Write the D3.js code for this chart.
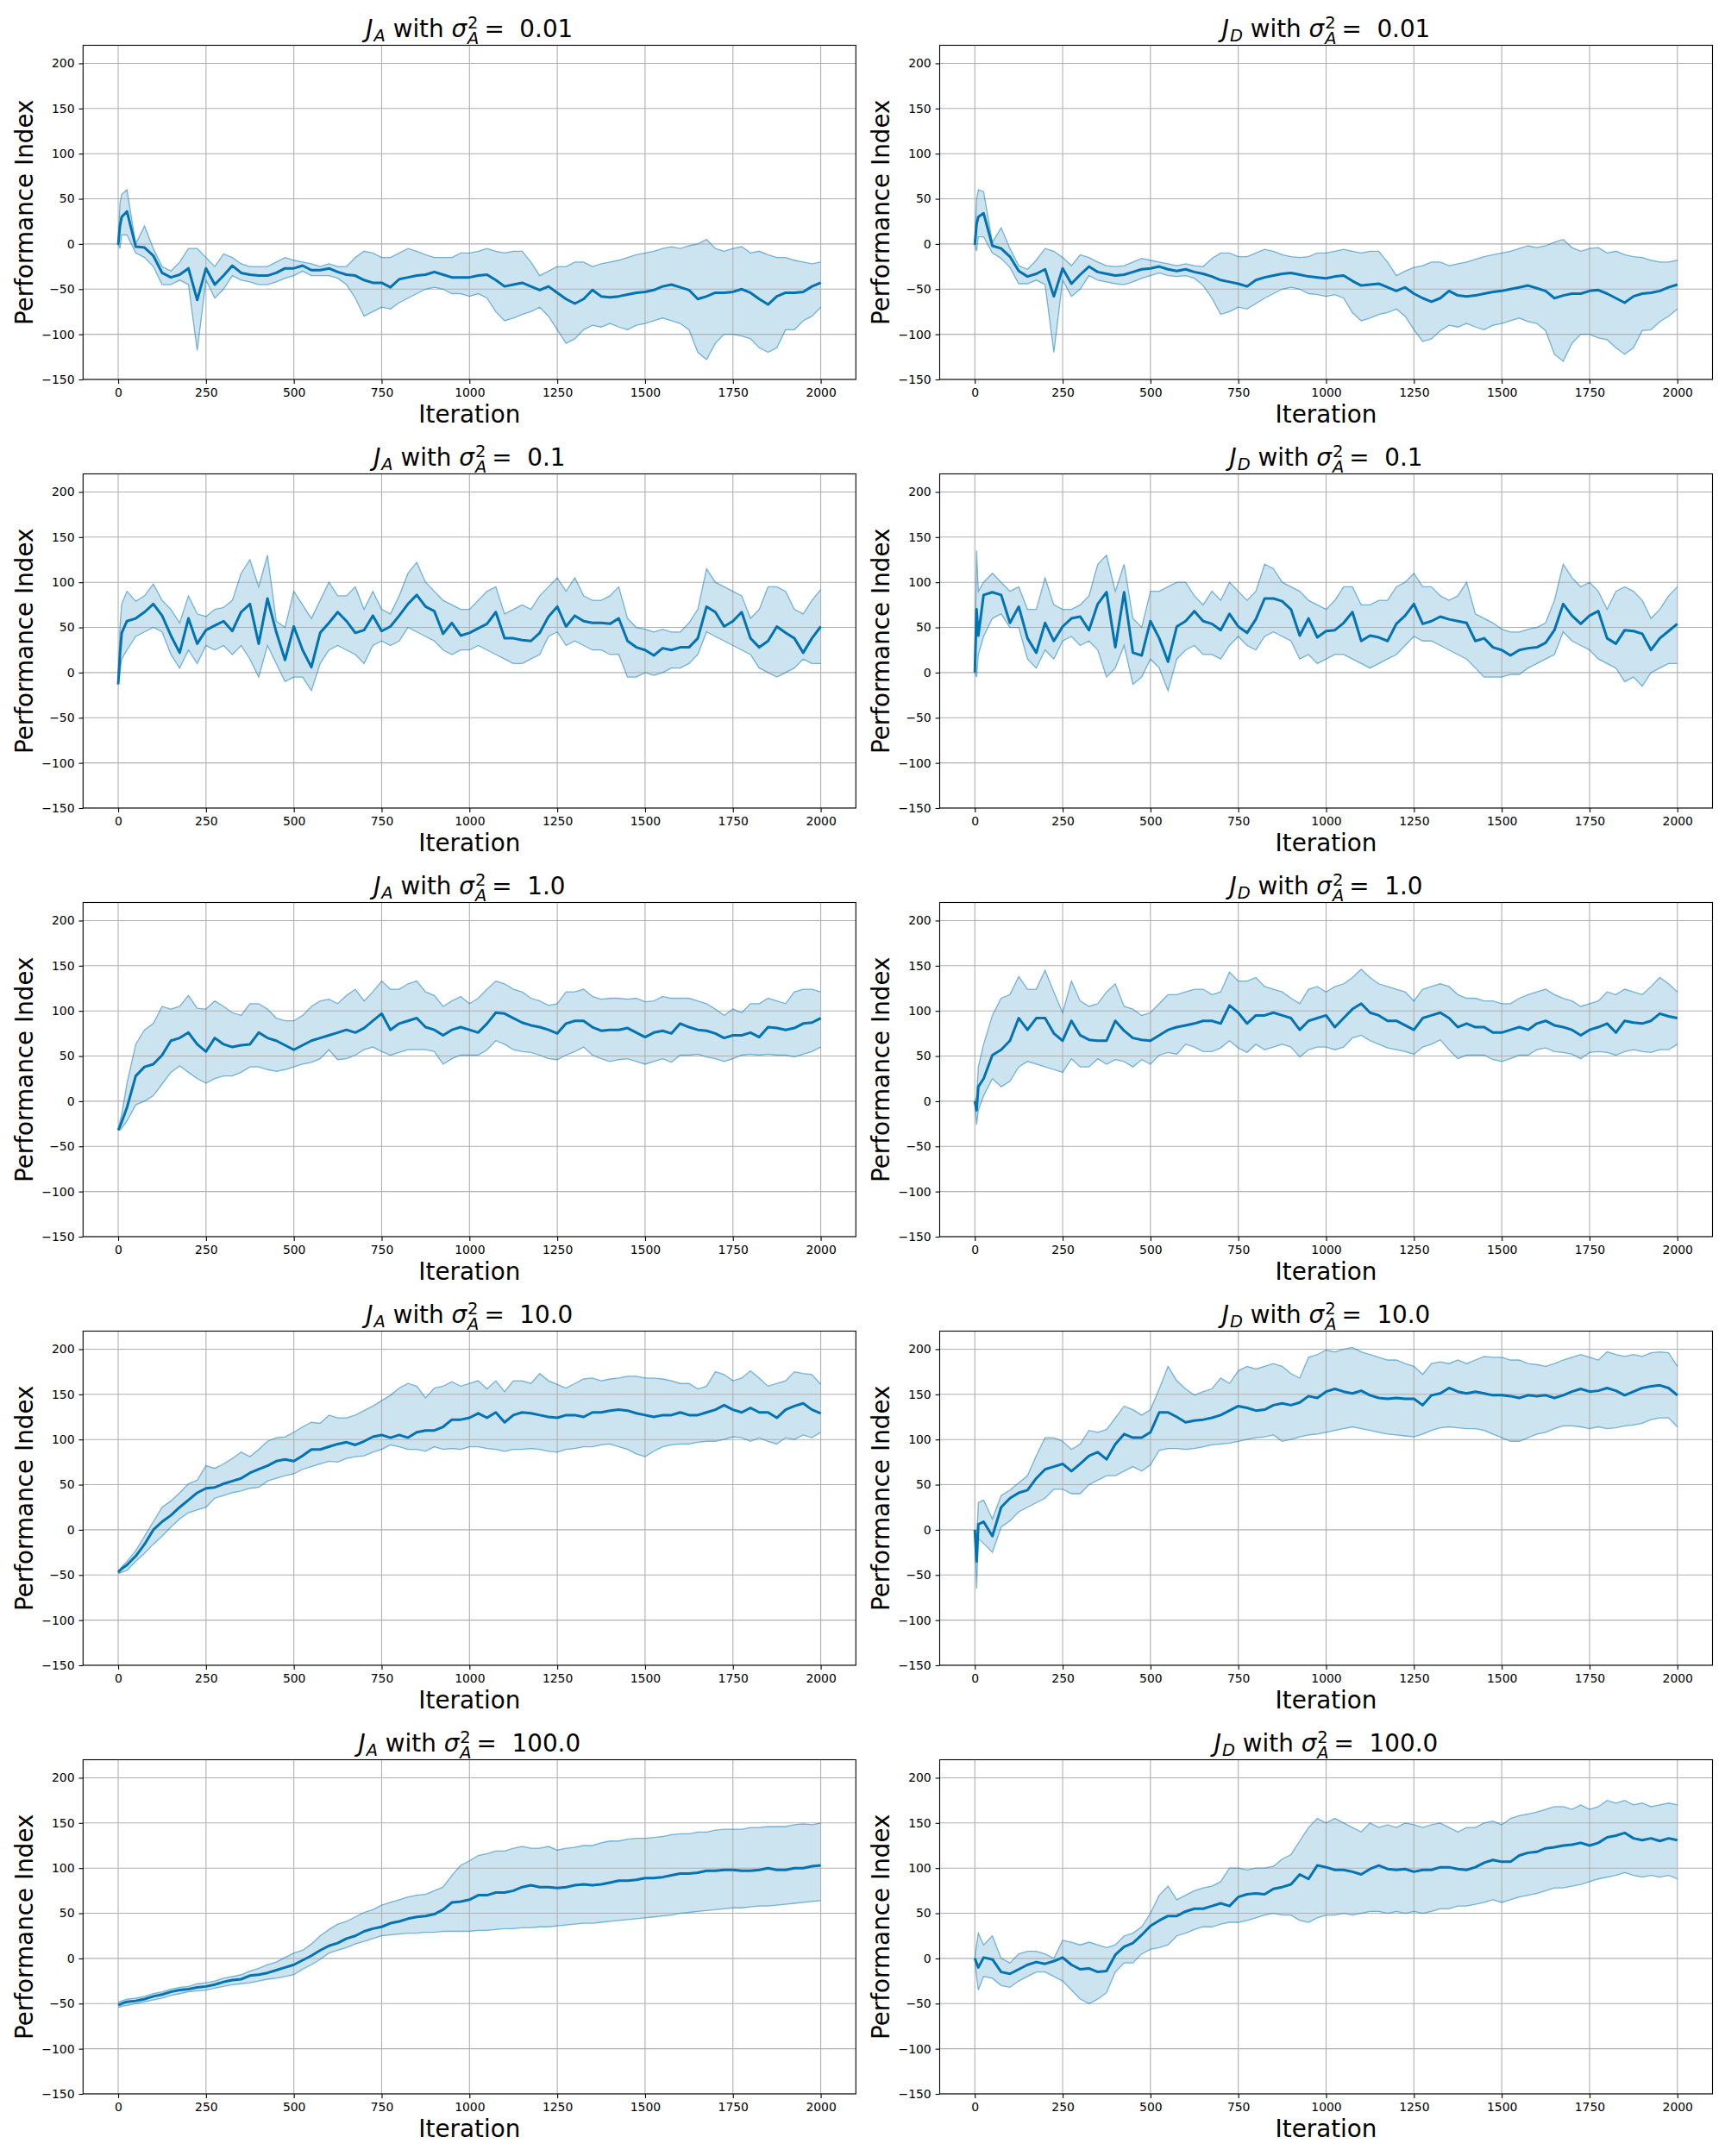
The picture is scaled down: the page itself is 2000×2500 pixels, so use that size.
<!DOCTYPE html>
<html>
<head>
<meta charset="utf-8">
<script src="https://cdn.jsdelivr.net/npm/d3@7"></script>
<style>
  body { margin: 0; background: #fff; }
  text { font-family: "DejaVu Sans", sans-serif; }
</style>
</head>
<body>
<svg id="fig"></svg>
<script>
const svgWidth = 2000;
const svgHeight = 2500;

// iteration grid the curves were read on
const ITER = [0, 5, 10, 25,
  50, 75, 100, 125, 150, 175, 200, 225, 250, 275,
  300, 325, 350, 375, 400, 425, 450, 475, 500, 525,
  550, 575, 600, 625, 650, 675, 700, 725, 750, 775,
  800, 825, 850, 875, 900, 925, 950, 975, 1000, 1025,
  1050, 1075, 1100, 1125, 1150, 1175, 1200, 1225, 1250, 1275,
  1300, 1325, 1350, 1375, 1400, 1425, 1450, 1475, 1500, 1525,
  1550, 1575, 1600, 1625, 1650, 1675, 1700, 1725, 1750, 1775,
  1800, 1825, 1850, 1875, 1900, 1925, 1950, 1975, 2000];

const xTicks = [0, 250, 500, 750, 1000, 1250, 1500, 1750, 2000];
const yTicks = [-150, -100, -50, 0, 50, 100, 150, 200];

// J_A, sigma^2 = 0.01
const meanA001 = [-1, 20, 30, 36,
  -3, -4, -13, -32, -37, -34, -27, -62, -27, -45,
  -35, -24, -32, -34, -35, -35, -32, -27, -27, -24,
  -29, -29, -27, -31, -34, -35, -40, -43, -43, -48,
  -39, -37, -35, -34, -31, -34, -37, -37, -37, -35,
  -34, -40, -47, -45, -43, -47, -51, -47, -54, -61,
  -66, -61, -51, -58, -59, -58, -56, -54, -53, -51,
  -47, -45, -48, -51, -61, -58, -54, -54, -53, -50,
  -54, -61, -67, -58, -54, -54, -53, -47, -43];
const upA001 = [0, 45, 55, 60,
  0, 20, -5, -25, -30, -20, -5, -5, -15, -25,
  -11, -15, -22, -25, -25, -25, -20, -15, -18, -20,
  -22, -25, -22, -25, -25, -15, -8, -10, -15, -15,
  -10, -5, -8, -12, -15, -15, -15, -10, -10, -8,
  -5, -8, -10, -8, -8, -20, -35, -30, -25, -25,
  -20, -20, -25, -22, -20, -18, -15, -12, -10, -8,
  -5, -3, -5, -2, 0, 5, -5, -8, -5, -3,
  -10, -8, -12, -15, -15, -18, -20, -22, -20];
const loA001 = [0, -5, 10, 10,
  -10, -15, -25, -45, -45, -40, -45, -118, -40, -60,
  -50, -35, -40, -42, -45, -45, -42, -38, -35, -30,
  -35, -35, -35, -38, -45, -60, -80, -75, -70, -72,
  -65, -60, -55, -50, -48, -50, -55, -55, -58, -55,
  -60, -75, -85, -82, -78, -75, -70, -80, -95, -110,
  -105, -95, -90, -92, -88, -92, -95, -90, -88, -85,
  -82, -85, -88, -95, -120, -128, -110, -100, -100, -102,
  -105, -115, -120, -115, -95, -95, -85, -80, -70];

// J_D, sigma^2 = 0.01
const meanD001 = [-1, 22, 30, 34,
  -2, -5, -14, -30, -36, -33, -28, -58, -27, -44,
  -34, -25, -31, -33, -35, -34, -31, -28, -27, -25,
  -28, -30, -28, -31, -33, -36, -40, -42, -44, -47,
  -40, -37, -35, -33, -32, -34, -36, -37, -38, -36,
  -35, -41, -46, -45, -44, -48, -52, -48, -55, -60,
  -64, -60, -52, -57, -58, -57, -55, -53, -52, -50,
  -48, -46, -49, -52, -60, -57, -55, -55, -52, -51,
  -55, -60, -65, -58, -55, -54, -52, -48, -45];
const upD001 = [0, 50, 60, 58,
  2, 18, -5, -24, -28, -18, -5, -8, -15, -24,
  -12, -15, -20, -24, -25, -24, -20, -16, -18, -20,
  -22, -24, -22, -24, -25, -16, -10, -10, -14, -14,
  -10, -6, -8, -12, -14, -15, -14, -10, -10, -8,
  -6, -8, -10, -8, -8, -20, -35, -30, -26, -24,
  -20, -20, -24, -22, -20, -17, -14, -12, -10, -8,
  -5, -2, -4, -2, 2, 5, -4, -8, -5, -4,
  -10, -8, -12, -14, -15, -18, -20, -20, -18];
const loD001 = [0, -8, 8, 8,
  -10, -16, -26, -44, -44, -40, -45, -120, -40, -58,
  -50, -35, -40, -42, -44, -45, -42, -38, -35, -32,
  -35, -36, -35, -38, -46, -60, -78, -75, -70, -72,
  -66, -60, -55, -50, -48, -50, -55, -56, -58, -56,
  -60, -76, -85, -82, -78, -76, -72, -80, -95, -108,
  -105, -96, -90, -92, -88, -92, -95, -90, -88, -85,
  -82, -86, -88, -96, -122, -130, -110, -100, -100, -104,
  -106, -115, -122, -115, -96, -95, -86, -80, -72];

// J_A, sigma^2 = 0.1
const meanA01 = [-13, 20, 44, 57,
  60, 67, 76, 63, 41, 22, 60, 32, 47, 52,
  57, 46, 67, 76, 32, 82, 45, 14, 51, 25,
  6, 44, 55, 67, 57, 44, 47, 63, 46, 51,
  63, 76, 86, 73, 68, 43, 55, 41, 44, 49,
  54, 67, 38, 38, 36, 35, 44, 62, 73, 51,
  63, 57, 55, 55, 54, 60, 35, 28, 25, 19,
  27, 25, 28, 28, 38, 73, 67, 51, 57, 67,
  38, 28, 35, 51, 44, 38, 22, 38, 51];
const upA01 = [-13, 50, 76, 90,
  79, 85, 98, 80, 70, 55, 85, 65, 62, 70,
  72, 80, 110, 125, 95, 130, 57, 50, 90, 75,
  60, 80, 100, 85, 85, 95, 70, 90, 70, 65,
  85, 110, 122, 100, 90, 80, 75, 70, 70, 80,
  90, 95, 65, 70, 75, 70, 85, 95, 105, 90,
  105, 85, 80, 80, 85, 95, 60, 50, 48, 45,
  48, 45, 45, 55, 70, 115, 100, 95, 90, 85,
  60, 70, 95, 95, 90, 70, 65, 80, 92];
const loA01 = [-13, 0, 15, 25,
  40, 45, 50, 45, 20, 5, 25, 10, 30, 25,
  30, 20, 30, 15, -5, 30, 10, -10, -5, -5,
  -20, 10, 25, 30, 25, 20, 10, 30, 35, 30,
  35, 50, 45, 40, 35, 25, 20, 25, 25, 30,
  25, 20, 15, 10, 10, 15, 20, 40, 45, 30,
  35, 30, 25, 25, 20, 20, -5, -5, 0, -3,
  0, 5, 5, 10, 20, 45, 40, 35, 30, 25,
  20, 5, 0, -5, 0, 5, 15, 10, 10];

// J_D, sigma^2 = 0.1
const meanD01 = [0, 70, 41, 86,
  89, 86, 55, 73, 38, 22, 55, 35, 51, 60,
  62, 47, 76, 89, 28, 89, 22, 19, 57, 38,
  12, 51, 57, 68, 57, 54, 47, 65, 51, 44,
  59, 82, 82, 79, 70, 41, 60, 39, 46, 47,
  55, 67, 35, 41, 39, 35, 54, 63, 76, 54,
  57, 62, 59, 57, 55, 35, 38, 28, 25, 19,
  25, 27, 28, 33, 47, 76, 63, 54, 63, 68,
  38, 32, 47, 46, 43, 25, 38, 46, 54];
const upD01 = [0, 135, 90, 100,
  110, 100, 90, 95, 70, 70, 105, 75, 70, 70,
  75, 85, 120, 130, 90, 120, 60, 50, 90, 90,
  95, 100, 100, 85, 75, 90, 80, 100, 90, 80,
  90, 120, 115, 100, 95, 90, 80, 75, 70, 80,
  95, 95, 75, 75, 80, 80, 95, 100, 110, 95,
  95, 85, 80, 85, 100, 65, 60, 55, 48, 45,
  45, 48, 50, 55, 80, 120, 105, 95, 100, 90,
  70, 90, 95, 90, 80, 60, 70, 85, 95];
const loD01 = [0, -5, 20, 40,
  60, 65, 50, 50, 15, 5, 25, 15, 35, 40,
  30, 35, 25, -5, 5, 30, -13, -5, 15, 5,
  -20, 15, 25, 30, 20, 20, 15, 30, 40, 30,
  25, 40, 45, 40, 35, 15, 20, 10, 15, 20,
  20, 15, 10, 5, 10, 15, 20, 30, 40, 35,
  35, 30, 25, 20, 15, 5, -5, -5, -5, -2,
  -2, 5, 10, 15, 20, 45, 35, 30, 25, 15,
  10, 5, -10, -5, -15, 0, 5, 10, 10];

// J_A, sigma^2 = 1.0
const meanA1 = [-32, -28, -23, -7,
  28, 38, 41, 51, 67, 70, 76, 63, 55, 70,
  63, 60, 62, 63, 76, 70, 67, 62, 57, 62,
  67, 70, 73, 76, 79, 76, 81, 89, 97, 79,
  86, 89, 92, 82, 79, 73, 79, 82, 79, 76,
  86, 98, 97, 92, 87, 84, 82, 79, 75, 86,
  89, 89, 82, 78, 79, 79, 81, 76, 71, 76,
  78, 75, 86, 82, 79, 78, 75, 70, 73, 73,
  76, 71, 82, 81, 79, 81, 86, 87, 92];
const upA1 = [-32, -22, -15, 20,
  63, 79, 86, 105, 102, 105, 117, 103, 102, 111,
  105, 98, 95, 108, 108, 102, 92, 89, 89, 95,
  105, 111, 113, 108, 117, 124, 111, 121, 133, 124,
  124, 130, 133, 121, 117, 105, 111, 116, 108, 114,
  124, 133, 130, 124, 121, 114, 111, 106, 108, 121,
  121, 124, 116, 113, 114, 114, 113, 114, 110, 111,
  116, 114, 114, 114, 111, 108, 102, 95, 102, 98,
  108, 108, 114, 111, 108, 121, 124, 124, 121];
const loA1 = [-32, -32, -30, -22,
  -4, 0, 6, 19, 32, 39, 32, 25, 20, 25,
  28, 28, 32, 38, 38, 35, 33, 35, 38, 41,
  43, 47, 57, 46, 47, 51, 57, 60, 55, 51,
  54, 57, 57, 57, 55, 41, 47, 51, 51, 51,
  57, 67, 63, 57, 55, 54, 51, 47, 46, 51,
  55, 60, 51, 47, 44, 46, 47, 44, 41, 44,
  47, 43, 51, 51, 52, 49, 47, 44, 47, 51,
  52, 51, 52, 51, 51, 49, 52, 55, 60];

// J_D, sigma^2 = 1.0
const meanD1 = [0, -10, 16, 25,
  51, 57, 67, 92, 79, 92, 92, 75, 67, 89,
  73, 68, 67, 67, 89, 78, 70, 68, 67, 73,
  79, 82, 84, 86, 89, 89, 86, 106, 98, 86,
  95, 95, 98, 95, 92, 79, 89, 92, 95, 82,
  92, 102, 108, 98, 95, 89, 89, 84, 79, 92,
  95, 98, 92, 82, 86, 82, 82, 76, 76, 79,
  82, 79, 86, 89, 84, 82, 79, 73, 79, 82,
  86, 76, 89, 87, 86, 89, 97, 94, 92];
const upD1 = [0, 5, 38, 63,
  95, 114, 118, 138, 124, 124, 145, 121, 98, 133,
  111, 105, 108, 121, 130, 105, 102, 95, 98, 108,
  118, 118, 121, 124, 124, 118, 121, 143, 133, 133,
  137, 127, 124, 121, 114, 108, 124, 127, 121, 127,
  130, 137, 146, 137, 130, 127, 124, 121, 111, 124,
  127, 130, 127, 118, 114, 114, 111, 111, 108, 108,
  114, 118, 121, 124, 118, 114, 111, 105, 108, 111,
  121, 118, 124, 121, 118, 127, 137, 130, 121];
const loD1 = [0, -26, -10, 6,
  25, 16, 22, 38, 44, 41, 38, 35, 32, 47,
  38, 38, 47, 41, 46, 44, 38, 46, 41, 51,
  54, 52, 63, 60, 55, 55, 59, 67, 59, 54,
  63, 57, 60, 63, 60, 49, 57, 60, 60, 57,
  60, 70, 73, 67, 63, 59, 57, 55, 52, 60,
  63, 68, 57, 47, 51, 51, 51, 46, 44, 47,
  51, 51, 57, 59, 55, 54, 52, 47, 54, 55,
  54, 51, 55, 57, 55, 54, 57, 57, 63];

// J_A, sigma^2 = 10.0
const meanA10 = [-47, -45, -43, -39,
  -29, -16, 0, 9, 16, 25, 33, 41, 46, 47,
  51, 54, 57, 63, 67, 71, 76, 78, 76, 82,
  89, 89, 92, 95, 97, 94, 98, 103, 105, 102,
  105, 102, 108, 110, 110, 114, 122, 122, 124, 129,
  124, 130, 119, 127, 130, 129, 127, 125, 124, 127,
  127, 125, 130, 130, 132, 133, 132, 129, 127, 125,
  127, 127, 130, 127, 127, 130, 133, 138, 133, 130,
  135, 130, 130, 124, 133, 137, 140, 133, 129];
const upA10 = [-45, -44, -41, -35,
  -23, -7, 9, 25, 32, 41, 51, 55, 71, 68,
  73, 79, 86, 81, 89, 98, 102, 103, 108, 114,
  119, 118, 127, 124, 124, 127, 132, 137, 143, 149,
  157, 162, 159, 146, 157, 159, 164, 159, 162, 165,
  156, 165, 153, 165, 165, 162, 173, 165, 161, 157,
  162, 167, 168, 165, 167, 168, 170, 170, 168, 168,
  167, 165, 162, 162, 156, 159, 175, 172, 165, 168,
  176, 168, 159, 162, 165, 175, 173, 172, 161];
const loA10 = [-48, -48, -47, -45,
  -35, -26, -16, -7, 3, 12, 19, 22, 25, 35,
  38, 41, 43, 46, 47, 54, 57, 60, 62, 67,
  70, 73, 76, 75, 79, 81, 82, 86, 89, 94,
  92, 89, 89, 87, 92, 89, 90, 89, 92, 92,
  90, 89, 87, 89, 89, 90, 89, 87, 86, 89,
  90, 92, 92, 94, 95, 92, 89, 84, 81, 87,
  92, 94, 95, 95, 97, 98, 98, 100, 103, 102,
  98, 102, 98, 95, 102, 100, 105, 102, 108];

// J_D, sigma^2 = 10.0
const meanD10 = [0, -35, 6, 9,
  -7, 25, 35, 41, 44, 57, 67, 70, 73, 65,
  73, 82, 86, 78, 95, 106, 102, 102, 108, 130,
  130, 125, 119, 121, 122, 124, 127, 132, 137, 135,
  132, 133, 138, 140, 138, 141, 148, 146, 153, 156,
  153, 151, 154, 149, 146, 145, 146, 145, 145, 138,
  149, 151, 157, 153, 151, 153, 151, 149, 149, 148,
  146, 149, 148, 149, 146, 149, 153, 156, 153, 154,
  157, 154, 149, 153, 157, 159, 160, 157, 149];
const upD10 = [0, -15, 30, 33,
  12, 38, 44, 52, 60, 82, 102, 102, 98, 89,
  95, 110, 108, 111, 124, 137, 133, 127, 133, 156,
  181, 165, 156, 149, 153, 156, 168, 162, 176, 181,
  178, 181, 184, 181, 173, 168, 191, 194, 199, 197,
  200, 202, 197, 194, 191, 188, 188, 184, 181, 172,
  184, 186, 184, 188, 184, 188, 192, 191, 191, 188,
  188, 184, 183, 181, 184, 188, 191, 194, 191, 188,
  197, 194, 192, 194, 192, 196, 197, 196, 181];
const loD10 = [0, -65, -10, -15,
  -25, 3, 10, 20, 25, 30, 35, 45, 45, 40,
  40, 50, 55, 60, 60, 65, 70, 65, 72, 88,
  90, 90, 89, 90, 92, 94, 95, 96, 98, 100,
  102, 103, 105, 98, 100, 103, 105, 106, 108, 110,
  112, 114, 112, 110, 108, 106, 105, 104, 103, 106,
  110, 113, 114, 113, 112, 112, 110, 106, 102, 98,
  98, 102, 106, 108, 112, 115, 115, 114, 112, 114,
  112, 113, 115, 116, 118, 122, 124, 124, 114];

// J_A, sigma^2 = 100.0
const meanA100 = [-51, -51, -50, -48,
  -47, -45, -42, -40, -37, -35, -34, -32, -31, -29,
  -26, -24, -23, -19, -18, -16, -13, -10, -7, -2,
  3, 9, 14, 17, 22, 25, 30, 33, 35, 39,
  41, 44, 46, 47, 49, 54, 62, 63, 65, 70,
  70, 73, 73, 75, 79, 81, 79, 79, 78, 79,
  81, 82, 81, 82, 84, 86, 86, 87, 89, 89,
  90, 92, 94, 94, 95, 97, 97, 98, 98, 97,
  97, 98, 100, 98, 98, 100, 100, 102, 103];
const upA100 = [-48, -48, -47, -45,
  -44, -42, -39, -37, -34, -32, -31, -28, -27, -25,
  -22, -20, -18, -14, -11, -7, -4, 1, 6, 9,
  16, 25, 32, 38, 41, 46, 51, 54, 59, 62,
  65, 68, 70, 71, 75, 79, 92, 103, 108, 114,
  116, 119, 119, 122, 124, 122, 122, 124, 120, 122,
  123, 125, 125, 128, 130, 130, 132, 133, 133, 134,
  135, 137, 138, 138, 140, 140, 142, 143, 143, 143,
  145, 145, 146, 146, 146, 148, 149, 148, 150];
const loA100 = [-54, -54, -53, -52,
  -50, -48, -46, -44, -41, -39, -37, -36, -35, -33,
  -31, -29, -28, -27, -25, -23, -22, -20, -18, -12,
  -7, -1, 6, 9, 12, 16, 19, 22, 25, 26,
  27, 28, 28, 29, 29, 30, 30, 30, 30, 31,
  31, 32, 33, 33, 34, 34, 35, 35, 36, 37,
  38, 39, 39, 40, 41, 42, 43, 44, 45, 46,
  47, 48, 50, 51, 52, 53, 54, 55, 56, 56,
  57, 58, 58, 59, 60, 61, 62, 63, 64];

// J_D, sigma^2 = 100.0
const meanD100 = [0, -5, -10, 1,
  -1, -15, -17, -12, -7, -4, -6, -3, 1, -7,
  -12, -11, -15, -14, 4, 13, 17, 26, 36, 42,
  47, 47, 52, 55, 55, 58, 61, 58, 68, 71,
  72, 71, 77, 79, 82, 93, 88, 103, 101, 98,
  98, 96, 93, 99, 103, 99, 98, 99, 96, 98,
  98, 101, 101, 99, 98, 101, 106, 109, 107, 107,
  114, 117, 118, 122, 123, 125, 126, 128, 125, 128,
  134, 136, 139, 133, 131, 133, 130, 133, 131];
const upD100 = [0, 15, 28, 15,
  25, 0, -5, 5, 8, 8, 5, 0, 20, 18,
  15, 18, 15, 12, 15, 25, 28, 35, 50, 70,
  80, 65, 70, 75, 78, 80, 85, 100, 100, 98,
  100, 100, 102, 110, 115, 130, 145, 155, 150, 155,
  150, 145, 140, 150, 145, 148, 145, 150, 148, 145,
  148, 150, 145, 140, 145, 145, 150, 152, 148, 155,
  158, 160, 162, 165, 168, 168, 165, 170, 165, 168,
  175, 172, 175, 170, 172, 168, 170, 172, 170];
const loD100 = [0, -20, -35, -20,
  -22, -30, -32, -25, -20, -15, -15, -20, -25, -35,
  -45, -50, -45, -38, -15, -5, -5, 5, 10, 12,
  15, 25, 28, 32, 35, 35, 38, 40, 40, 42,
  45, 48, 50, 48, 48, 42, 40, 45, 48, 48,
  50, 48, 50, 52, 52, 50, 52, 50, 52, 50,
  52, 55, 55, 58, 58, 60, 62, 65, 62, 65,
  68, 70, 72, 75, 78, 78, 80, 82, 85, 88,
  90, 92, 95, 92, 90, 92, 90, 92, 88];

const panels = [
  { obj: "A", sigma: "0.01", mean: meanA001, up: upA001, lo: loA001 },
  { obj: "D", sigma: "0.01", mean: meanD001, up: upD001, lo: loD001 },
  { obj: "A", sigma: "0.1", mean: meanA01, up: upA01, lo: loA01 },
  { obj: "D", sigma: "0.1", mean: meanD01, up: upD01, lo: loD01 },
  { obj: "A", sigma: "1.0", mean: meanA1, up: upA1, lo: loA1 },
  { obj: "D", sigma: "1.0", mean: meanD1, up: upD1, lo: loD1 },
  { obj: "A", sigma: "10.0", mean: meanA10, up: upA10, lo: loA10 },
  { obj: "D", sigma: "10.0", mean: meanD10, up: upD10, lo: loD10 },
  { obj: "A", sigma: "100.0", mean: meanA100, up: upA100, lo: loA100 },
  { obj: "D", sigma: "100.0", mean: meanD100, up: upD100, lo: loD100 }
];

const colX = [96.3, 1089.5];
const axW = 896;
const axH = 387.5;
const rowTop = 52.5;
const rowStep = 497;

const lineColor = "#0173b2";
const tickFont = 13.9;
const labelFont = 27.8;

const svg = d3.select("#fig")
  .attr("width", svgWidth)
  .attr("height", svgHeight);

svg.append("rect")
  .attr("width", svgWidth)
  .attr("height", svgHeight)
  .attr("fill", "#fff");

const minus = d => (d < 0 ? "\u2212" + Math.abs(d) : String(d));

// matplotlib-like mathtext title: J_X with sigma^2_A =  v
function drawTitle(g, cx, baseY, obj, sigma) {
  const fs = labelFont;
  const ss = fs * 0.7;
  const tg = g.append("g");
  let x = 0;
  function piece(str, size, italic, dy) {
    const t = tg.append("text")
      .attr("x", x)
      .attr("y", baseY + (dy || 0))
      .style("font-size", size + "px")
      .style("font-style", italic ? "italic" : "normal")
      .style("white-space", "pre")
      .text(str);
    return t.node().getComputedTextLength();
  }
  x += piece("J", fs, true) + 1;
  x += piece(obj, ss, true, 4.5);
  x += piece(" with ", fs, false);
  x += piece("\u03c3", fs, true) + 1;
  const w1 = piece("2", ss, false, -10.5);
  const w2 = piece("A", ss, true, 8);
  x += Math.max(w1, w2) + 6;
  x += piece("=", fs, false);
  x += piece("  " + sigma, fs, false);
  tg.attr("transform", `translate(${cx - x / 2},0)`);
}

panels.forEach(function(p, i) {
  const row = Math.floor(i / 2);
  const col = i % 2;
  const left = colX[col];
  const top = rowTop + row * rowStep;

  const xScale = d3.scaleLinear().domain([-100, 2100]).range([left, left + axW]);
  const yScale = d3.scaleLinear().domain([-150, 220]).range([top + axH, top]);

  const g = svg.append("g");
  const clipId = "clip" + i;
  g.append("clipPath").attr("id", clipId)
    .append("rect")
    .attr("x", left).attr("y", top)
    .attr("width", axW).attr("height", axH);

  const rows = ITER.map((it, k) => ({ it: it, m: p.mean[k], u: p.up[k], l: p.lo[k] }));

  // band
  const band = d3.area()
    .x(d => xScale(d.it))
    .y0(d => yScale(d.l))
    .y1(d => yScale(d.u));
  g.append("path")
    .datum(rows)
    .attr("clip-path", `url(#${clipId})`)
    .attr("d", band)
    .attr("fill", lineColor)
    .attr("fill-opacity", 0.2);

  // grid
  const grid = g.append("g").attr("clip-path", `url(#${clipId})`);
  grid.selectAll("line.vx")
    .data(xTicks)
    .enter()
    .append("line")
    .attr("x1", d => xScale(d)).attr("x2", d => xScale(d))
    .attr("y1", top).attr("y2", top + axH)
    .attr("stroke", "#b0b0b0")
    .attr("stroke-width", 1.1);
  grid.selectAll("line.hy")
    .data(yTicks)
    .enter()
    .append("line")
    .attr("x1", left).attr("x2", left + axW)
    .attr("y1", d => yScale(d)).attr("y2", d => yScale(d))
    .attr("stroke", "#b0b0b0")
    .attr("stroke-width", 1.1);

  // band edges and mean
  const edge = key => d3.line().x(d => xScale(d.it)).y(d => yScale(d[key]));
  ["u", "l"].forEach(function(k) {
    g.append("path")
      .datum(rows)
      .attr("clip-path", `url(#${clipId})`)
      .attr("d", edge(k))
      .attr("fill", "none")
      .attr("stroke", lineColor)
      .attr("stroke-opacity", 0.5)
      .attr("stroke-width", 1.3);
  });
  g.append("path")
    .datum(rows)
    .attr("clip-path", `url(#${clipId})`)
    .attr("d", edge("m"))
    .attr("fill", "none")
    .attr("stroke", lineColor)
    .attr("stroke-width", 3)
    .attr("stroke-linejoin", "round");

  // axes
  const xAxis = g.append("g")
    .attr("transform", `translate(0, ${top + axH})`)
    .call(d3.axisBottom(xScale).tickValues(xTicks).tickFormat(d => String(d))
      .tickSize(4.9).tickPadding(4.9));
  const yAxis = g.append("g")
    .attr("transform", `translate(${left}, 0)`)
    .call(d3.axisLeft(yScale).tickValues(yTicks).tickFormat(minus)
      .tickSize(4.9).tickPadding(4.9));
  [xAxis, yAxis].forEach(function(a) {
    a.select(".domain").remove();
    a.selectAll("line").attr("stroke", "#000").attr("stroke-width", 1.1);
    a.selectAll("text")
      .attr("fill", "#000")
      .style("font-size", tickFont + "px")
      .style("font-family", "DejaVu Sans");
  });

  // spines
  g.append("rect")
    .attr("x", left).attr("y", top)
    .attr("width", axW).attr("height", axH)
    .attr("fill", "none")
    .attr("stroke", "#000")
    .attr("stroke-width", 1.1);

  // labels
  g.append("text")
    .attr("x", left + axW / 2)
    .attr("y", top + axH + 49.5)
    .attr("text-anchor", "middle")
    .style("font-size", labelFont + "px")
    .text("Iteration");
  g.append("text")
    .attr("transform", `translate(${left - 58.5}, ${top + axH / 2}) rotate(-90)`)
    .attr("text-anchor", "middle")
    .style("font-size", labelFont + "px")
    .text("Performance Index");

  drawTitle(g, left + axW / 2, top - 9.5, p.obj, p.sigma);
});
</script>
</body>
</html>
